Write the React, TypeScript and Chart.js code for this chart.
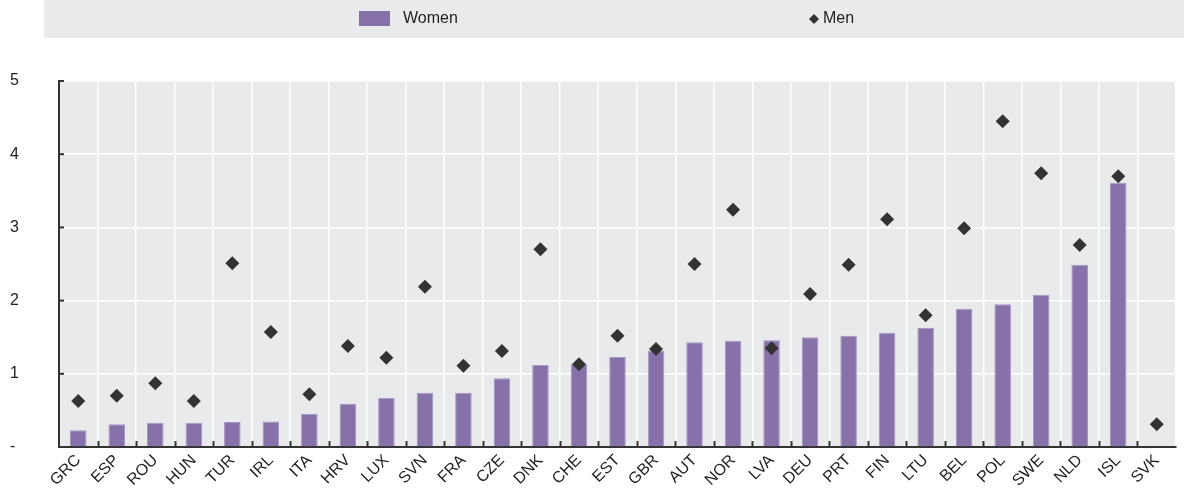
import React, { useEffect, useRef } from "react";
import { Chart, registerables } from "chart.js";

Chart.register(...registerables);

const categories = ["GRC","ESP","ROU","HUN","TUR","IRL","ITA","HRV","LUX","SVN","FRA","CZE","DNK","CHE","EST","GBR","AUT","NOR","LVA","DEU","PRT","FIN","LTU","BEL","POL","SWE","NLD","ISL","SVK"];
const women = [0.23,0.31,0.33,0.33,0.34,0.35,0.45,0.59,0.67,0.74,0.74,0.94,1.12,1.13,1.23,1.31,1.43,1.45,1.46,1.50,1.52,1.56,1.63,1.89,1.95,2.08,2.49,3.61,null];
const men = [0.63,0.70,0.87,0.63,2.51,1.57,0.72,1.38,1.22,2.19,1.11,1.31,2.70,1.13,1.52,1.34,2.50,3.24,1.35,2.09,2.49,3.11,1.80,2.99,4.45,3.74,2.76,3.70,0.31];
const yTicks = [0, 1, 2, 3, 4, 5];

const PURPLE = "#8672A8";
const DARK = "#333333";
const BG = "#E9EAEC";
const FONT = "'Liberation Sans', Arial, sans-serif";

export default function App() {
  const ref = useRef<HTMLCanvasElement | null>(null);
  useEffect(() => {
    document.body.style.margin = "0";
    const canvas = ref.current;
    if (!canvas) return;

    const decor = {
      id: "decor",
      beforeDraw(chart: any) {
        const { ctx, chartArea } = chart;
        ctx.save();
        ctx.fillStyle = BG;
        ctx.fillRect(chartArea.left, chartArea.top, chartArea.right - chartArea.left, chartArea.bottom - chartArea.top);
        // legend box
        ctx.fillStyle = BG;
        ctx.fillRect(44, 0, 1184 - 44, 38);
        ctx.fillStyle = PURPLE;
        ctx.fillRect(359, 11, 31, 15);
        ctx.fillStyle = "#222";
        ctx.font = "16px " + FONT;
        ctx.textBaseline = "middle";
        ctx.textAlign = "left";
        ctx.fillText(chart.data.datasets[0].label, 403, 19);
        ctx.fillStyle = DARK;
        ctx.beginPath();
        ctx.moveTo(809, 19);
        ctx.lineTo(814, 14);
        ctx.lineTo(819, 19);
        ctx.lineTo(814, 24);
        ctx.closePath();
        ctx.fill();
        ctx.fillStyle = "#222";
        ctx.fillText(chart.data.datasets[1].label, 823, 19);
        ctx.restore();
      },
      afterDraw(chart: any) {
        const { ctx, chartArea, scales } = chart;
        ctx.save();
        ctx.strokeStyle = DARK;
        ctx.lineWidth = 2;
        const n = chart.data.labels.length;
        const w = (chartArea.right - chartArea.left) / n;
        for (let i = 1; i < n; i++) {
          const x = Math.round(chartArea.left + i * w) + 0.5;
          ctx.beginPath();
          ctx.moveTo(x, chartArea.bottom);
          ctx.lineTo(x, chartArea.bottom - 6);
          ctx.stroke();
        }
        for (const v of yTicks) {
          if (v === 0) continue;
          const y = scales.y.getPixelForValue(v);
          ctx.beginPath();
          ctx.moveTo(chartArea.left, y);
          ctx.lineTo(chartArea.left + 5, y);
          ctx.stroke();
        }
        ctx.restore();
      },
    };

    const chart = new Chart(canvas, {
      type: "bar",
      data: {
        labels: categories,
        datasets: [
          {
            type: "bar",
            label: "Women",
            data: women as any,
            backgroundColor: PURPLE,
            borderColor: "#A596C2",
            borderWidth: { top: 1, left: 1, right: 1, bottom: 0 } as any,
            barPercentage: 0.43,
            categoryPercentage: 1,
            order: 2,
          },
          {
            type: "line",
            label: "Men",
            data: men,
            showLine: false,
            pointStyle: "rectRot",
            pointRadius: 7,
            pointHoverRadius: 7,
            pointBackgroundColor: DARK,
            pointBorderColor: DARK,
            pointBorderWidth: 0,
            order: 1,
          } as any,
        ],
      },
      options: {
        responsive: false,
        animation: false,
        layout: { padding: { left: 10, top: 81, right: 8, bottom: 0 } },
        plugins: { legend: { display: false }, tooltip: { enabled: false } },
        scales: {
          x: {
            offset: true,
            grid: { color: "#FFFFFF", lineWidth: 1.5, drawTicks: false, offset: true },
            border: { display: true, color: DARK, width: 2 },
            ticks: {
              maxRotation: 45,
              minRotation: 45,
              padding: 4,
              color: "#222",
              font: { size: 16, family: FONT },
              autoSkip: false,
            },
            afterFit(scale: any) {
              scale.height = 46;
            },
          },
          y: {
            min: 0,
            max: 5,
            grid: { color: "#FFFFFF", lineWidth: 1.5, drawTicks: false },
            border: { display: true, color: DARK, width: 2 },
            afterBuildTicks(scale: any) {
              scale.ticks = yTicks.map((v) => ({ value: v }));
            },
            ticks: {
              crossAlign: "far",
              color: "#222",
              font: { size: 16, family: FONT },
              callback: (v: any) => (Number(v) === 0 ? "-" : String(v)),
            },
            afterFit(scale: any) {
              scale.width = 49;
            },
          },
        },
      },
      plugins: [decor],
    });
    return () => chart.destroy();
  }, []);
  return <canvas ref={ref} width={1184} height={493} style={{ display: "block", width: 1184, height: 493 }} />;
}
